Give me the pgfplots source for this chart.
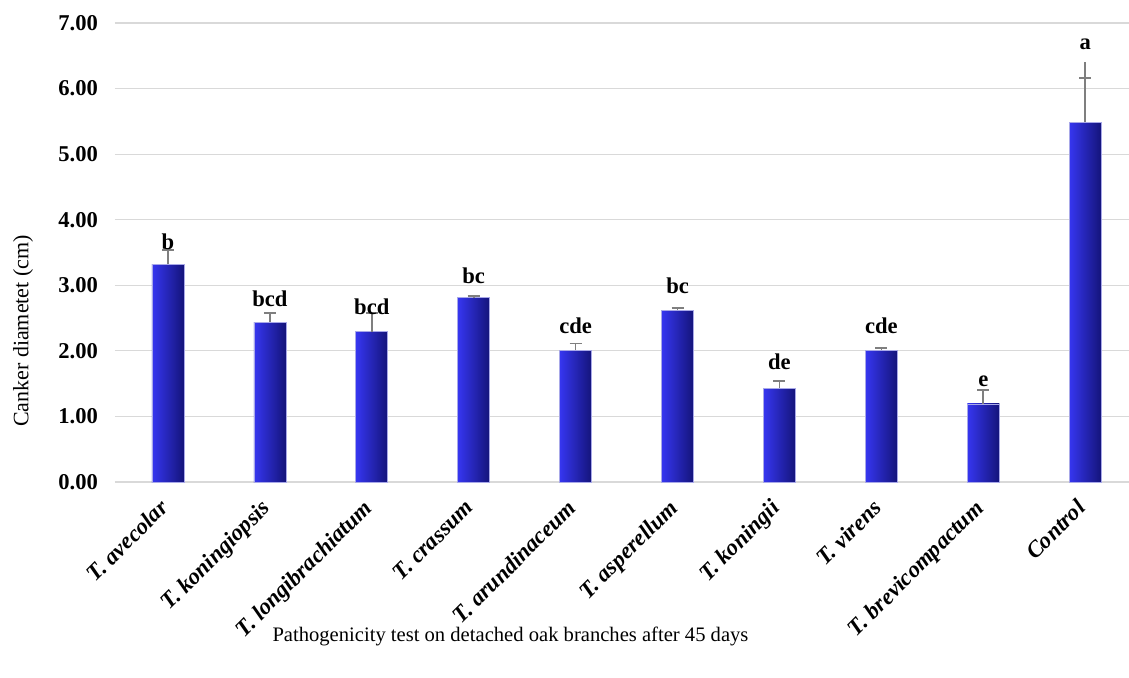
\documentclass[border=0pt]{standalone}
\usepackage{pgfplots}
\pgfplotsset{compat=1.18}
\usepackage{pgfplotstable}
\usepackage{fontspec}
\setmainfont{Liberation Serif}
\definecolor{gridc}{HTML}{D9D9D9}
\definecolor{errc}{HTML}{7F7F7F}
\definecolor{barL}{HTML}{3636F0}
\definecolor{barM}{HTML}{4646FF}
\definecolor{barR}{HTML}{14147A}
\definecolor{barE}{HTML}{A8A8E8}
\pgfplotstableread{
x y lab
0 3.55 b
1 2.68 bcd
2 2.55 bcd
3 3.02 bc
4 2.27 cde
5 2.88 bc
6 1.71 de
7 2.27 cde
8 1.46 e
9 6.59 a
}\labs
\pgfplotsset{mybar/.style={ybar, bar width=16pt, bar shift=0pt, draw=barE, line width=0.4pt,
  left color=barL, middle color=barM, right color=barR,
  error bars/.cd, y dir=plus, y explicit,
  error bar style={errc, line width=0.8pt},
  error mark options={rotate=90, mark size=3pt, errc, line width=0.8pt}}}
\begin{document}
\begin{tikzpicture}
\useasboundingbox (-57.5pt,-97.5pt) rectangle (507pt,241pt);
\begin{axis}[
  scale only axis,
  width=507pt, height=229.5pt,
  xmin=-0.52, xmax=9.43,
  ymin=0, ymax=7,
  ytick={0,1,...,7},
  xtick={0,...,9},
  xticklabels={T. avecolar, T. koningiopsis, T. longibrachiatum, T. crassum, T. arundinaceum, T. asperellum, T. koningii, T. virens, T. brevicompactum, Control},
  xticklabel style={font=\fontsize{11.5}{13}\selectfont\bfseries\itshape, rotate=45, anchor=north east, inner sep=1pt, xshift=-8pt, yshift=-1pt},
  yticklabel style={font=\fontsize{11.3}{13}\selectfont\bfseries, xshift=-5pt},
  /pgf/number format/assume math mode=true,
  yticklabel={\pgfmathprintnumber[fixed, fixed zerofill, precision=2]{\tick}},
  axis line style={draw=none},
  ymajorgrids, grid style={gridc, line width=0.6pt},
  major tick length=0pt,
  ylabel={Canker diametet (cm)},
  ylabel style={font=\fontsize{11}{13}\selectfont, at={(axis description cs:-0.0907,0.329)}, anchor=center},
  xlabel={Pathogenicity test on detached oak branches after 45 days},
  xlabel style={font=\fontsize{10.3}{12}\selectfont, at={(axis description cs:0.39,-0.336)}, anchor=center},
  clip=false,
]
\draw[gridc, line width=0.8pt] (axis cs:-0.52,0) -- (axis cs:9.43,0);
\addplot[mybar] coordinates {(0,3.32) +- (0,0.22)};
\addplot[mybar] coordinates {(1,2.44) +- (0,0.14)};
\addplot[mybar] coordinates {(2,2.29) +- (0,0.29)};
\addplot[mybar] coordinates {(3,2.81) +- (0,0.03)};
\addplot[mybar] coordinates {(4,2.01) +- (0,0.10)};
\addplot[mybar] coordinates {(5,2.62) +- (0,0.03)};
\addplot[mybar] coordinates {(6,1.43) +- (0,0.11)};
\addplot[mybar] coordinates {(7,2.01) +- (0,0.03)};
\addplot[mybar] coordinates {(8,1.19) +- (0,0.21)};
\addplot[mybar] coordinates {(9,5.49) +- (0,0.67)};
\addplot[draw=none, mark=none, forget plot,
  error bars/.cd, y dir=plus, y explicit, error mark=none,
  error bar style={errc, line width=0.8pt}]
  coordinates {(9,5.49) +- (0,0.92)};
\addplot[draw=none, mark=none, nodes near coords, point meta=explicit symbolic,
  nodes near coords align={center},
  every node near coord/.append style={anchor=base, inner sep=0pt, font=\fontsize{11.3}{13}\selectfont\bfseries}]
  table[x=x, y=y, meta=lab] {\labs};
\end{axis}
\end{tikzpicture}
\end{document}
